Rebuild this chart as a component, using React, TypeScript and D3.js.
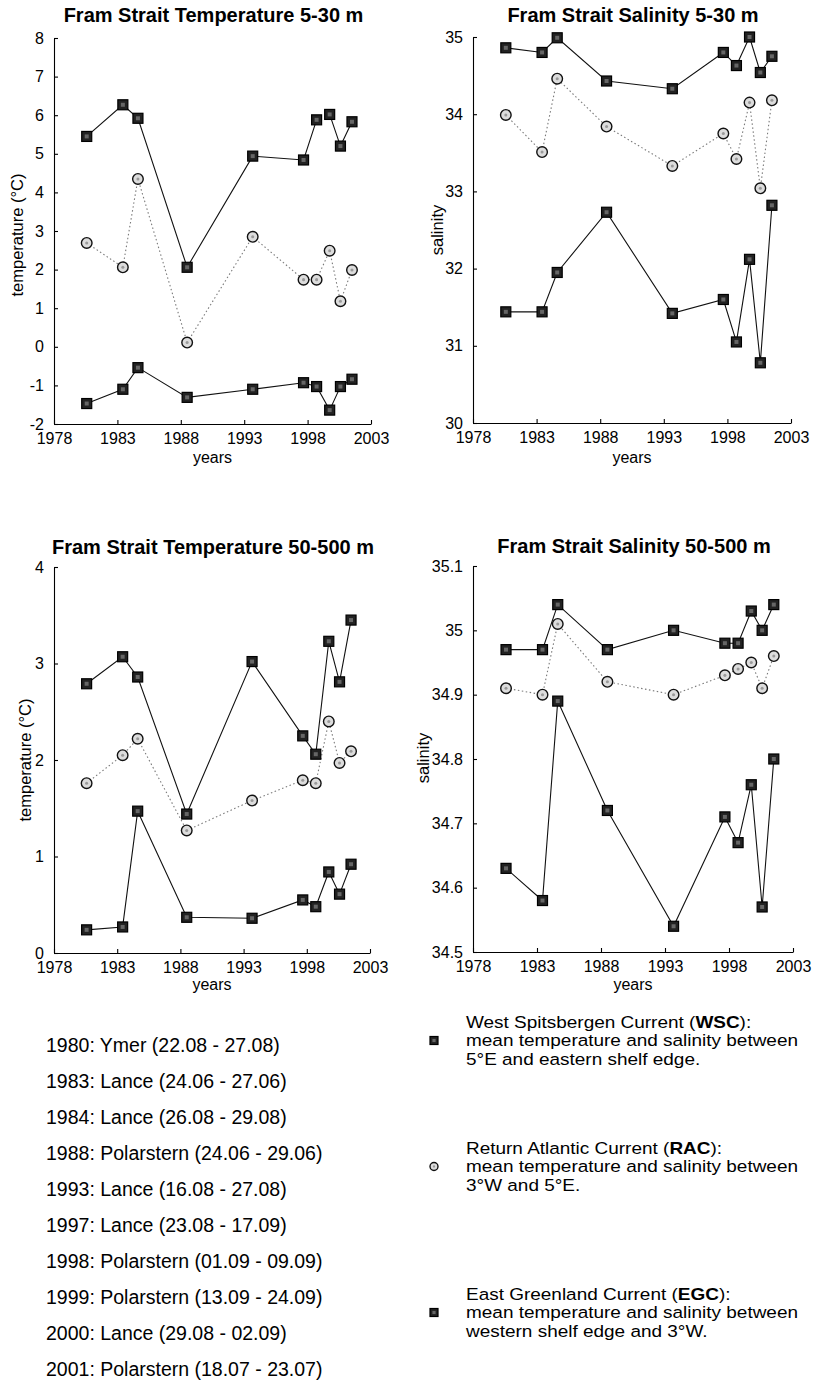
import React, { useEffect, useRef } from "react";
import * as d3 from "d3";

const years = [1980.58, 1983.43, 1984.62, 1988.5, 1993.67, 1997.68, 1998.71, 1999.74, 2000.59, 2001.5];
const xTicks = [1978, 1983, 1988, 1993, 1998, 2003];

// 5-30 m
const tempSurfWSC = [5.45, 6.27, 5.92, 2.06, 4.94, 4.84, 5.88, 6.02, 5.2, 5.83];
const tempSurfRAC = [2.69, 2.06, 4.35, 0.11, 2.85, 1.74, 1.74, 2.49, 1.18, 1.99];
const tempSurfEGC = [-1.47, -1.1, -0.54, -1.31, -1.1, -0.93, -1.03, -1.64, -1.03, -0.84];
const salSurfWSC = [34.86, 34.8, 34.99, 34.43, 34.33, 34.8, 34.63, 35.0, 34.54, 34.75];
const salSurfRAC = [33.99, 33.51, 34.46, 33.84, 33.33, 33.75, 33.42, 34.15, 33.04, 34.18];
const salSurfEGC = [31.44, 31.44, 31.95, 32.73, 31.42, 31.6, 31.05, 32.12, 30.78, 32.82];

// 50-500 m
const tempDeepWSC = [2.79, 3.07, 2.86, 1.44, 3.02, 2.25, 2.06, 3.23, 2.81, 3.45];
const tempDeepRAC = [1.76, 2.05, 2.22, 1.27, 1.58, 1.79, 1.76, 2.4, 1.97, 2.09];
const tempDeepEGC = [0.24, 0.27, 1.47, 0.37, 0.36, 0.55, 0.48, 0.84, 0.61, 0.92];
const salDeepWSC = [34.97, 34.97, 35.04, 34.97, 35.0, 34.98, 34.98, 35.03, 35.0, 35.04];
const salDeepRAC = [34.91, 34.9, 35.01, 34.92, 34.9, 34.93, 34.94, 34.95, 34.91, 34.96];
const salDeepEGC = [34.63, 34.58, 34.89, 34.72, 34.54, 34.71, 34.67, 34.76, 34.57, 34.8];

const tempSurfTicks = [-2, -1, 0, 1, 2, 3, 4, 5, 6, 7, 8];
const salSurfTicks = [30, 31, 32, 33, 34, 35];
const tempDeepTicks = [0, 1, 2, 3, 4];
const salDeepTicks = [34.5, 34.6, 34.7, 34.8, 34.9, 35, 35.1];

const cruises = [
  "1980: Ymer (22.08 - 27.08)",
  "1983: Lance (24.06 - 27.06)",
  "1984: Lance (26.08 - 29.08)",
  "1988: Polarstern (24.06 - 29.06)",
  "1993: Lance (16.08 - 27.08)",
  "1997: Lance (23.08 - 17.09)",
  "1998: Polarstern (01.09 - 09.09)",
  "1999: Polarstern (13.09 - 24.09)",
  "2000: Lance (29.08 - 02.09)",
  "2001: Polarstern (18.07 - 23.07)",
];

const currentNames = ["West Spitsbergen Current", "Return Atlantic Current", "East Greenland Current"];
const currentAbbr = ["WSC", "RAC", "EGC"];
const currentDesc = [
  ["mean temperature and salinity between", "5°E and eastern shelf edge."],
  ["mean temperature and salinity between", "3°W and 5°E."],
  ["mean temperature and salinity between", "western shelf edge and 3°W."],
];

const FONT = "'Liberation Sans', Arial, Helvetica, sans-serif";

// wscBreak: index after which the WSC line is not drawn in the original
const panels = [
  { title: "Fram Strait Temperature 5-30 m", yLabel: "temperature (°C)", ticks: tempSurfTicks,
    wsc: tempSurfWSC, rac: tempSurfRAC, egc: tempSurfEGC, wscBreak: 6,
    left: 54, right: 371, top: 38, bottom: 424, titleY: 22, yearsY: 463, labelX: 17, labelY: 235 },
  { title: "Fram Strait Salinity 5-30 m", yLabel: "salinity", ticks: salSurfTicks,
    wsc: salSurfWSC, rac: salSurfRAC, egc: salSurfEGC, wscBreak: -1,
    left: 473, right: 791, top: 37, bottom: 423, titleY: 22, yearsY: 463, labelX: 437, labelY: 230 },
  { title: "Fram Strait Temperature 50-500 m", yLabel: "temperature (°C)", ticks: tempDeepTicks,
    wsc: tempDeepWSC, rac: tempDeepRAC, egc: tempDeepEGC, wscBreak: -1,
    left: 54, right: 370, top: 567, bottom: 953, titleY: 554, yearsY: 990, labelX: 25, labelY: 760 },
  { title: "Fram Strait Salinity 50-500 m", yLabel: "salinity", ticks: salDeepTicks,
    wsc: salDeepWSC, rac: salDeepRAC, egc: salDeepEGC, wscBreak: -1,
    left: 473, right: 793, top: 566, bottom: 952, titleY: 553, yearsY: 990, labelX: 423, labelY: 758 },
];

function drawSquare(g, cx, cy, s) {
  g.append("rect").attr("x", cx - s / 2).attr("y", cy - s / 2).attr("width", s).attr("height", s)
    .attr("fill", "#222").attr("stroke", "#000").attr("stroke-width", 1.2);
  g.append("rect").attr("x", cx - s / 5).attr("y", cy - s / 5).attr("width", s / 2.5).attr("height", s / 2.5)
    .attr("fill", "#666");
}

function drawCircle(g, cx, cy, r) {
  g.append("circle").attr("cx", cx).attr("cy", cy).attr("r", r)
    .attr("fill", "#dcdcdc").attr("stroke", "#111").attr("stroke-width", 1.4);
  g.append("circle").attr("cx", cx).attr("cy", cy).attr("r", r / 3.5).attr("fill", "#9a9a9a");
}

export default function App() {
  const ref = useRef(null);

  useEffect(() => {
    const svg = d3.select(ref.current);
    svg.selectAll("*").remove();

    panels.forEach(p => {
      const x = d3.scaleLinear().domain([1978, 2003]).range([p.left, p.right]);
      const y = d3.scaleLinear().domain([p.ticks[0], p.ticks[p.ticks.length - 1]]).range([p.bottom, p.top]);
      const g = svg.append("g");

      const xAxis = g.append("g")
        .attr("transform", `translate(0,${p.bottom})`)
        .call(d3.axisBottom(x).tickValues(xTicks).tickFormat(d3.format("d"))
          .tickSizeInner(-4).tickSizeOuter(0).tickPadding(9));
      const yAxis = g.append("g")
        .attr("transform", `translate(${p.left},0)`)
        .call(d3.axisLeft(y).tickValues(p.ticks).tickFormat(d => String(+(+d).toFixed(1)))
          .tickSizeInner(-4).tickSizeOuter(0).tickPadding(10));
      [xAxis, yAxis].forEach(a => {
        a.attr("font-size", 16).attr("font-family", FONT);
        a.selectAll("text").attr("fill", "#000");
        a.selectAll("line,path").attr("stroke", "#000").attr("stroke-width", 1.1);
      });

      g.append("text").attr("x", (p.left + p.right) / 2 + 1).attr("y", p.titleY)
        .attr("text-anchor", "middle").attr("font-family", FONT).attr("font-weight", "bold")
        .attr("font-size", 20).text(p.title);
      g.append("text").attr("x", (p.left + p.right) / 2).attr("y", p.yearsY)
        .attr("text-anchor", "middle").attr("font-family", FONT).attr("font-size", 16).text("years");
      g.append("text").attr("transform", `translate(${p.labelX},${p.labelY}) rotate(-90)`)
        .attr("text-anchor", "middle").attr("dy", "0.35em").attr("font-family", FONT)
        .attr("font-size", 16.5).text(p.yLabel);

      const line = d3.line()
        .defined(d => d.v != null)
        .x(d => x(years[d.i])).y(d => y(d.v));
      const pts = s => s.map((v, i) => ({ v, i }));

      g.append("path").datum(pts(p.rac)).attr("d", line).attr("fill", "none")
        .attr("stroke", "#7a7a7a").attr("stroke-width", 1.1).attr("stroke-dasharray", "1.5,2.5");

      const wscParts = p.wscBreak >= 0
        ? [pts(p.wsc).slice(0, p.wscBreak + 1), pts(p.wsc).slice(p.wscBreak + 1)]
        : [pts(p.wsc)];
      [...wscParts, pts(p.egc)].forEach(s => {
        g.append("path").datum(s).attr("d", line).attr("fill", "none")
          .attr("stroke", "#111").attr("stroke-width", 1.1);
      });

      p.rac.forEach((v, i) => drawCircle(g, x(years[i]), y(v), 5.3));
      [p.wsc, p.egc].forEach(s => s.forEach((v, i) => drawSquare(g, x(years[i]), y(v), 10)));
    });

    // cruise list
    svg.append("g").selectAll("text").data(cruises).join("text")
      .attr("x", 46).attr("y", (d, i) => 1052 + i * 36)
      .attr("font-family", FONT).attr("font-size", 19.5).text(d => d);

    // legend of the currents (text a little wider than Arial, as in the scan)
    const legendTop = [1028, 1154, 1300];
    currentNames.forEach((name, k) => {
      const lg = svg.append("g");
      const tg = lg.append("g").attr("transform", "translate(466,0) scale(1.15,1)");
      const t = tg.append("text").attr("x", 0).attr("y", legendTop[k])
        .attr("font-family", FONT).attr("font-size", 16.5);
      t.append("tspan").text(name + " (");
      t.append("tspan").attr("font-weight", "bold").text(currentAbbr[k]);
      t.append("tspan").text("):");
      currentDesc[k].forEach((line, j) => {
        tg.append("text").attr("x", 0).attr("y", legendTop[k] + 18.5 * (j + 1))
          .attr("font-family", FONT).attr("font-size", 16.5).text(line);
      });
      const my = legendTop[k] + 18.5 - 6;
      if (k === 1) drawCircle(lg, 434, my, 4);
      else drawSquare(lg, 434, my, 8);
    });
  }, []);

  return (
    <svg ref={ref} width={813} height={1393}
      style={{ position: "absolute", left: 0, top: 0, background: "#fff" }} />
  );
}
